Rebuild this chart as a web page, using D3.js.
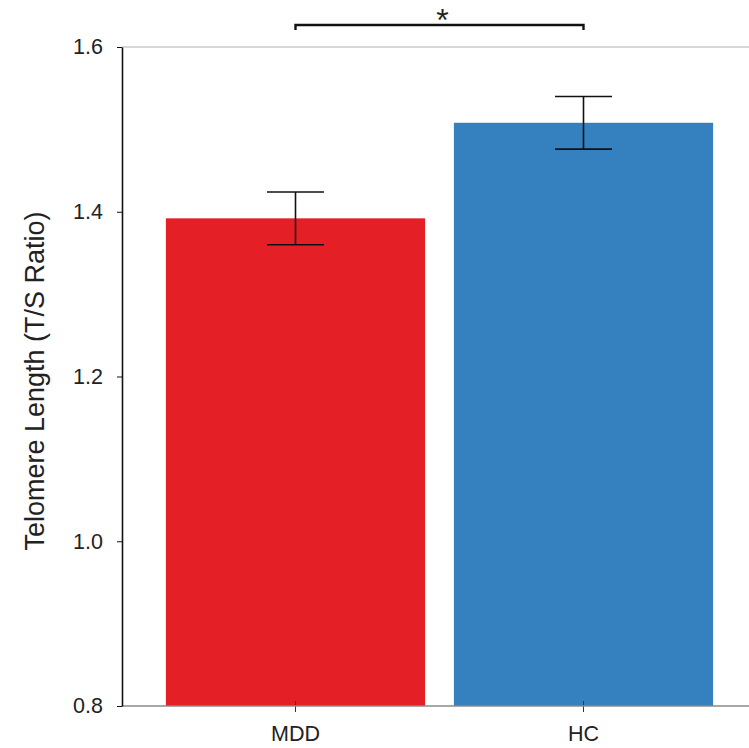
<!DOCTYPE html>
<html>
<head>
<meta charset="utf-8">
<script src="https://cdn.jsdelivr.net/npm/d3@7"></script>
<style>
  body { margin: 0; background: #fff; }
  text { font-family: "Liberation Sans", Arial, sans-serif; fill: #222; }
</style>
</head>
<body>
<svg width="749" height="748"></svg>
<script>
// data
var groups = ["MDD", "HC"];
var means = [1.392, 1.508];
var errors = [0.032, 0.032];
var colors = ["#e41f26", "#3580be"];
var yTicks = [0.8, 1.0, 1.2, 1.4, 1.6];

var svg = d3.select("svg");

// plot area, in page pixels (not "top" -- that's window.top)
var plotLeft = 122, plotTop = 47, plotBottom = 706, plotRight = 749;

var x = d3.scaleBand()
    .domain(groups)
    .range([151.5, 727.5])
    .paddingInner(0.1)
    .paddingOuter(0.05);

var y = d3.scaleLinear()
    .domain([0.8, 1.6])
    .range([plotBottom, plotTop]);

// top frame line (light gray)
svg.append("line")
    .attr("x1", plotLeft).attr("x2", plotRight)
    .attr("y1", plotTop).attr("y2", plotTop)
    .attr("stroke", "#c8c8c8")
    .attr("stroke-width", 1.5);

// bars
svg.append("g")
  .selectAll("rect")
  .data(groups)
  .enter().append("rect")
    .attr("x", function(d) { return x(d); })
    .attr("width", x.bandwidth())
    .attr("y", function(d, i) { return y(means[i]); })
    .attr("height", function(d, i) { return y(0.8) - y(means[i]); })
    .attr("fill", function(d, i) { return colors[i]; });

// error bars
var eb = svg.append("g")
    .attr("stroke", "#111")
    .attr("stroke-width", 1.6)
  .selectAll("g")
  .data(groups)
  .enter().append("g");

eb.append("line")
    .attr("x1", function(d) { return x(d) + x.bandwidth() / 2; })
    .attr("x2", function(d) { return x(d) + x.bandwidth() / 2; })
    .attr("y1", function(d, i) { return y(means[i] + errors[i]); })
    .attr("y2", function(d, i) { return y(means[i] - errors[i]); });

[1, -1].forEach(function(s) {
  eb.append("line")
      .attr("x1", function(d) { return x(d) + x.bandwidth() / 2 - 28.5; })
      .attr("x2", function(d) { return x(d) + x.bandwidth() / 2 + 28.5; })
      .attr("y1", function(d, i) { return y(means[i] + s * errors[i]); })
      .attr("y2", function(d, i) { return y(means[i] + s * errors[i]); });
});

// x axis
var xAxis = svg.append("g")
    .attr("transform", "translate(0," + plotBottom + ")")
    .call(d3.axisBottom(x).tickSize(6).tickSizeOuter(0));
xAxis.select(".domain").remove();
xAxis.selectAll(".tick line").attr("stroke", "#333").attr("y1", -5).attr("y2", 6);
xAxis.selectAll(".tick text")
    .attr("y", 0)
    .attr("dy", 35)
    .attr("font-size", 21.5)
    .attr("fill", "#222")
    .style("font-family", "'Liberation Sans', Arial, sans-serif");
svg.append("line")
    .attr("x1", plotLeft).attr("x2", plotRight)
    .attr("y1", plotBottom).attr("y2", plotBottom)
    .attr("stroke", "#8a8a8a")
    .attr("stroke-width", 1.5);

// y axis
var yAxis = svg.append("g")
    .attr("transform", "translate(" + plotLeft + ",0)")
    .call(d3.axisLeft(y).tickValues(yTicks).tickFormat(d3.format(".1f")).tickSize(5).tickSizeOuter(0));
yAxis.select(".domain").attr("stroke", "#111").attr("stroke-width", 1.6);
yAxis.selectAll(".tick line").attr("stroke", "#111");
yAxis.selectAll(".tick text")
    .attr("x", -19)
    .attr("font-size", 21.5)
    .attr("fill", "#222")
    .style("font-family", "'Liberation Sans', Arial, sans-serif");

// y label
svg.append("text")
    .attr("transform", "translate(44,381) rotate(-90)")
    .attr("text-anchor", "middle")
    .attr("font-size", 27)
    .text("Telomere Length (T/S Ratio)");

// significance bracket
var bx1 = x("MDD") + x.bandwidth() / 2, bx2 = x("HC") + x.bandwidth() / 2, by = 25;
svg.append("path")
    .attr("d", "M" + bx1 + "," + (by + 5) + "V" + by + "H" + bx2 + "V" + (by + 5))
    .attr("fill", "none")
    .attr("stroke", "#111")
    .attr("stroke-width", 2.4);
svg.append("text")
    .attr("x", (bx1 + bx2) / 2 + 3)
    .attr("y", 31)
    .attr("text-anchor", "middle")
    .attr("font-size", 32)
    .text("*");
</script>
</body>
</html>
